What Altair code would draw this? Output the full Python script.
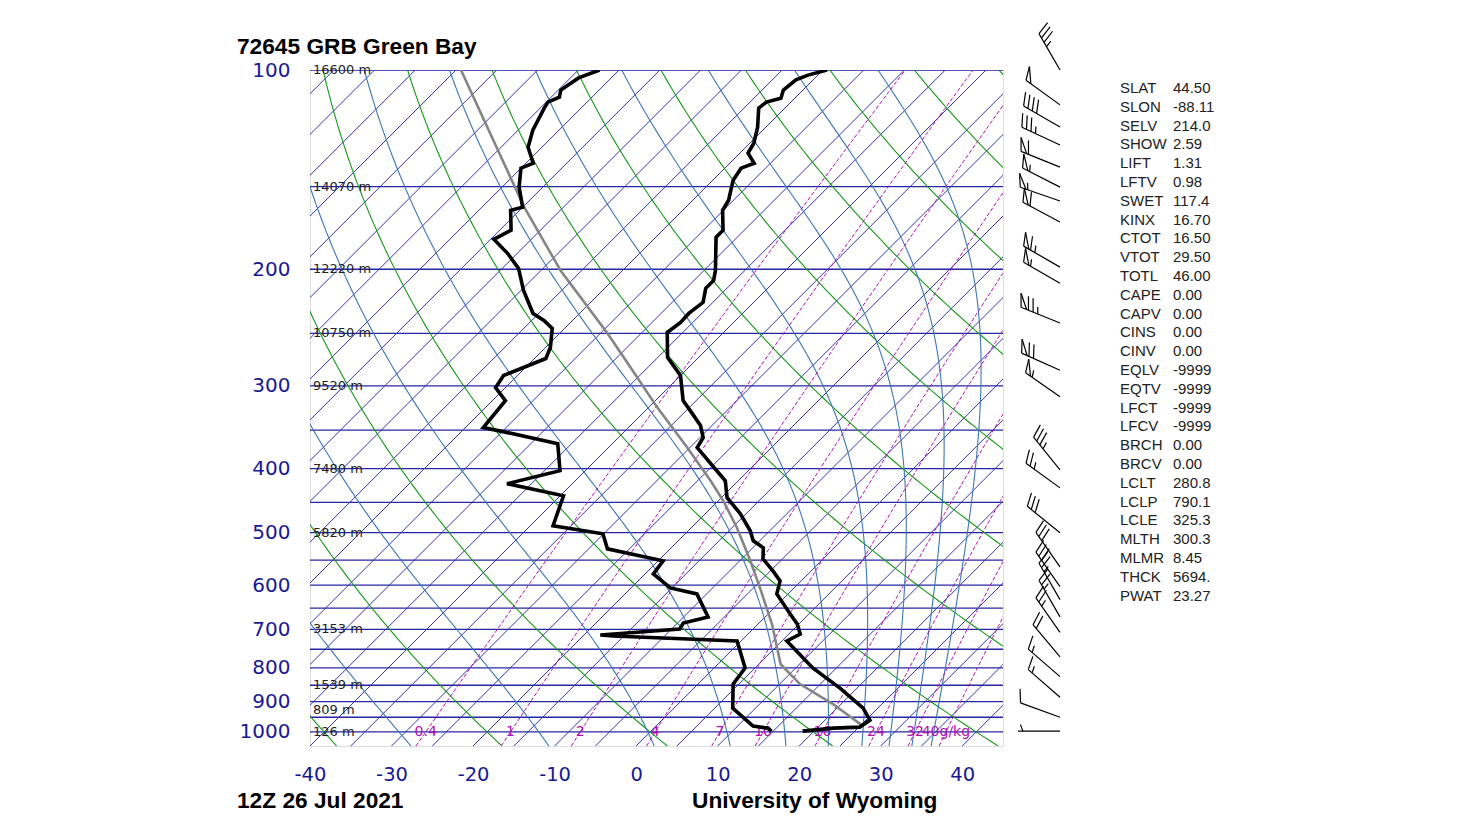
import numpy as np
import pandas as pd
import altair as alt

# ---------------- sounding values ----------------
temp_p = [100, 101.8, 103.5, 107.2, 110.3, 111.8, 114.2, 122.0, 129.0, 133.5, 138.3, 140.7,
          146.7, 157.3, 162.9, 174.6, 178.9, 200.8, 207.9, 213.7, 224.4, 233.2, 240.6, 249.2,
          271.8, 289.4, 315.8, 327.0, 344.5, 359.2, 372.0, 417.3, 442.7, 468.1, 496.7, 514.3,
          527.0, 547.6, 571.0, 591.2, 618.6, 663.3, 686.9, 711.3, 728.6, 800.5, 858.4, 920.3,
          959.5, 983.2, 986.6, 997.1]
temp_t = [-59.5, -61.2, -62.1, -62.4, -61.7, -63.0, -63.2, -61.0, -59.5, -59.0, -57.0, -58.0,
          -57.5, -55.6, -55.1, -52.6, -52.6, -48.6, -47.6, -47.6, -46.2, -46.6, -46.5, -46.9,
          -43.8, -40.0, -36.6, -34.5, -31.4, -29.6, -29.1, -21.6, -19.3, -15.7, -12.4, -10.8,
          -8.7, -7.4, -4.7, -2.6, -1.4, 2.7, 4.8, 6.4, 5.6, 12.1, 17.9, 23.2,
          25.5, 25.1, 22.0, 18.6]

dewp_p = [100, 102.8, 107.2, 109.9, 111.8, 114.2, 123.3, 130.8, 138.3, 140.7, 150.3, 161.2,
          162.9, 174.6, 180.2, 189.2, 199.4, 215.2, 233.2, 239.0, 245.7, 262.5, 272.8, 289.4,
          301.8, 315.8, 346.9, 353.0, 366.8, 403.0, 421.7, 439.7, 488.1, 501.9, 528.9, 551.4,
          577.0, 605.8, 618.6, 670.3, 684.5, 699.0, 713.8, 716.2, 728.6, 800.5, 846.5, 920.3,
          979.7, 986.6, 997.1]
dewp_t = [-87.4, -89.0, -89.7, -89.0, -89.8, -89.5, -88.2, -86.7, -84.1, -85.0, -82.9, -80.0,
          -81.1, -78.6, -79.6, -76.2, -73.0, -69.7, -65.7, -63.5, -61.5, -59.4, -58.6, -61.7,
          -61.2, -58.4, -57.8, -54.2, -46.7, -43.1, -48.0, -39.6, -37.2, -30.1, -27.7, -19.4,
          -19.0, -15.2, -11.2, -7.0, -9.3, -9.0, -18.0, -16.3, -0.5, 3.8, 4.3, 7.2,
          11.9, 13.9, 14.8]

parcel_p = [100, 161.2, 200.8, 250.0, 281.5, 323.6, 372.0, 417.3, 447.4, 491.5, 551.4, 605.8,
            686.9, 790.1, 846.5, 907.5, 979.7]
parcel_t = [-104.4, -79.8, -67.6, -54.1, -47.1, -38.9, -30.3, -23.4, -19.4, -14.4, -8.7, -4.2,
            1.7, 7.7, 12.5, 19.0, 25.4]

wind_p = [100, 112.9, 121.9, 129.8, 140.2, 150.3, 157.7, 169.7, 198.5, 209.9, 241.1, 284.1,
          311.6, 401.7, 427.8, 500.1, 563, 603, 631, 670, 707, 770, 825, 886, 950, 997]
wind_dir = [330, 306, 300, 295, 292, 297, 289, 298, 300, 300, 292, 294,
            305, 321, 306, 309, 325, 325, 330, 330, 325, 320, 311, 311, 290, 270]
wind_kt = [35, 50, 40, 35, 60, 55, 55, 60, 65, 55, 75, 70,
           55, 35, 25, 30, 30, 30, 25, 25, 25, 20, 15, 15, 10, 3]

height_p = [100, 150, 200, 250, 300, 400, 500, 700, 850, 925, 1000]
height_lbl = ["16600 m", "14070 m", "12220 m", "10750 m", "9520 m", "7480 m", "5820 m",
              "3153 m", "1539 m", "809 m", "126 m"]

index_names = ["SLAT", "SLON", "SELV", "SHOW", "LIFT", "LFTV", "SWET", "KINX", "CTOT", "VTOT",
               "TOTL", "CAPE", "CAPV", "CINS", "CINV", "EQLV", "EQTV", "LFCT", "LFCV", "BRCH",
               "BRCV", "LCLT", "LCLP", "LCLE", "MLTH", "MLMR", "THCK", "PWAT"]
index_values = ["44.50", "-88.11", "214.0", "2.59", "1.31", "0.98", "117.4", "16.70", "16.50",
                "29.50", "46.00", "0.00", "0.00", "0.00", "0.00", "-9999", "-9999", "-9999",
                "-9999", "0.00", "0.00", "280.8", "790.1", "325.3", "300.3", "8.45", "5694.",
                "23.27"]

isobar_levels = list(range(100, 1001, 50))
isotherm_levels = list(range(-125, 46, 5))
dry_theta_c = list(range(-40, 181, 20))
moist_thetae_c = list(range(-30, 151, 20))
mix_ratio = [0.4, 1, 2, 4, 7, 10, 16, 24, 32, 40]
mix_labels = ["0.4", "1", "2", "4", "7", "10", "16", "24", "32", "40g/kg"]
x_ticks = [-40, -30, -20, -10, 0, 10, 20, 30, 40]
y_ticks = [100, 200, 300, 400, 500, 600, 700, 800, 900, 1000]

# ---------------- diagram geometry ----------------
P_TOP, P_BOT = 100.0, 1050.0
X_MIN, X_MAX = -40.0, 45.0
WIDTH, HEIGHT = 693, 676
PX_PER_DEG = WIDTH / (X_MAX - X_MIN)
PX_PER_LN = HEIGHT / np.log(P_BOT / P_TOP)
SKEW = PX_PER_LN / PX_PER_DEG

BLUE = "#181894"
ISOBAR = "#2626a4"
ISOTH = "#3434aa"
GREEN = "#189818"
MOIST = "#3d76b4"
MAGENTA = "#b010b0"


def skew_x(t, p):
    return np.asarray(t, float) + SKEW * np.log(P_BOT / np.asarray(p, float))


def p_of_py(py):
    return P_TOP * np.exp(py / PX_PER_LN)


def py_of_p(p):
    return PX_PER_LN * np.log(p / P_TOP)


def x_of_px(px):
    return X_MIN + px / PX_PER_DEG


# ---- thermodynamics for the background lines ----
def es(tc):
    return 6.112 * np.exp(17.67 * tc / (tc + 243.5))


def sat_mix(tc, p):
    e = es(tc)
    return 0.622 * e / (p - e)


def lapse(tk, p):
    r = sat_mix(tk - 273.15, p)
    return (287.04 * tk + 2.501e6 * r) / (p * (1005.7 + 2.501e6 ** 2 * r * 0.622 / (287.04 * tk * tk)))


def integrate(tk, p0, p1, n):
    ps = np.linspace(p0, p1, n + 1)
    h = (p1 - p0) / n
    out = [tk]
    for k in range(n):
        p = ps[k]
        k1 = lapse(tk, p)
        k2 = lapse(tk + h * k1 / 2, p + h / 2)
        k3 = lapse(tk + h * k2 / 2, p + h / 2)
        k4 = lapse(tk + h * k3, p + h)
        tk = tk + h * (k1 + 2 * k2 + 2 * k3 + k4) / 6
        out.append(tk)
    return ps, np.array(out)


def theta_e_sat(tc, p=1000.0):
    tk = tc + 273.15
    r = sat_mix(tc, p) * 1000
    return tk * (1000 / p) ** (0.2854 * (1 - 0.28e-3 * r)) * np.exp(
        (3.376 / tk - 0.00254) * r * (1 + 0.81e-3 * r))


def theta_w(te):
    lo, hi = -80.0, 45.0
    for _ in range(60):
        mid = (lo + hi) / 2
        if theta_e_sat(mid) < te:
            lo = mid
        else:
            hi = mid
    return (lo + hi) / 2


def dewpoint_from_w(w, p):
    e = w * p / (622.0 + w)
    l = np.log(e / 6.112)
    return 243.5 * l / (17.67 - l)


# ---------------- tables ----------------
p_grid = np.exp(np.linspace(np.log(P_BOT), np.log(P_TOP), 120))

isobar_df = pd.DataFrame({"p": isobar_levels, "X": X_MIN, "X2": X_MAX})
isotherm_df = pd.DataFrame({
    "X": isotherm_levels,
    "p": P_BOT,
    "X2": skew_x(isotherm_levels, P_TOP),
    "p2": P_TOP,
})

rows = []
for th in dry_theta_c:
    t = (th + 273.15) * (p_grid / 1000.0) ** 0.2857 - 273.15
    xs = skew_x(t, p_grid)
    for i, (pp, xx) in enumerate(zip(p_grid, xs)):
        rows.append({"id": f"d{th}", "i": i, "p": pp, "X": xx})
dry_df = pd.DataFrame(rows)

rows = []
for te in moist_thetae_c:
    tw = theta_w(te + 273.15)
    pd_, td_ = integrate(tw + 273.15, 1000.0, P_BOT, 10)
    pu_, tu_ = integrate(tw + 273.15, 1000.0, P_TOP, 180)
    ps = np.concatenate([pd_[::-1], pu_[1:]])
    ts = np.concatenate([td_[::-1], tu_[1:]]) - 273.15
    xs = skew_x(ts, ps)
    for i, (pp, xx) in enumerate(zip(ps, xs)):
        rows.append({"id": f"m{te}", "i": i, "p": pp, "X": xx})
moist_df = pd.DataFrame(rows)

rows = []
for w in mix_ratio:
    td = dewpoint_from_w(w, p_grid)
    xs = skew_x(td, p_grid)
    for i, (pp, xx) in enumerate(zip(p_grid, xs)):
        rows.append({"id": f"w{w}", "i": i, "p": pp, "X": xx})
mix_df = pd.DataFrame(rows)

mixlab_df = pd.DataFrame({
    "X": [float(skew_x(dewpoint_from_w(w, 1000.0), 1000.0)) for w in mix_ratio],
    "p": 1000.0,
    "label": mix_labels,
})

height_df = pd.DataFrame({"p": height_p, "label": height_lbl})


def line_df(ps, ts):
    return pd.DataFrame({"i": range(len(ps)), "p": ps, "X": skew_x(ts, ps)})


temp_df = line_df(temp_p, temp_t)
dewp_df = line_df(dewp_p, dewp_t)
parcel_df = line_df(parcel_p, parcel_t)

# ---- wind barbs (drawn to the right of the diagram) ----
BARB_PX = 750.0
STAFF = 42.0
FEATHER = 14.0
STEP = 5.0
ang = np.radians(68)
segs = []
for p, d, spd in zip(wind_p, wind_dir, wind_kt):
    x0, y0 = BARB_PX, py_of_p(p)
    rad = np.radians(d)
    sx, sy = np.sin(rad), np.cos(rad)
    fx = sx * np.cos(ang) + sy * np.sin(ang)
    fy = -sx * np.sin(ang) + sy * np.cos(ang)
    ux, uy = sx, -sy          # screen direction toward the tip
    vx, vy = fx, -fy          # screen direction of the feathers
    tx, ty = x0 + STAFF * ux, y0 + STAFF * uy
    segs.append((x0, y0, tx, ty))
    s = int(5 * round(spd / 5.0))
    n50, rem = divmod(s, 50)
    n10, rem = divmod(rem, 10)
    n5 = 1 if rem >= 5 else 0
    pos = 0.0
    if n50 == 0 and n10 == 0 and n5 == 1:
        pos = STEP
    for _ in range(n50):
        ax, ay = tx - ux * pos, ty - uy * pos
        bx, by = tx - ux * (pos + 6), ty - uy * (pos + 6)
        cx, cy = ax + vx * FEATHER, ay + vy * FEATHER
        segs.append((ax, ay, cx, cy))
        segs.append((cx, cy, bx, by))
        pos += 8.0
    for _ in range(n10):
        ax, ay = tx - ux * pos, ty - uy * pos
        segs.append((ax, ay, ax + vx * FEATHER, ay + vy * FEATHER))
        pos += STEP
    for _ in range(n5):
        ax, ay = tx - ux * pos, ty - uy * pos
        segs.append((ax, ay, ax + vx * FEATHER / 2, ay + vy * FEATHER / 2))

barb_df = pd.DataFrame({
    "X": [x_of_px(s[0]) for s in segs],
    "p": [p_of_py(s[1]) for s in segs],
    "X2": [x_of_px(s[2]) for s in segs],
    "p2": [p_of_py(s[3]) for s in segs],
})

# ---------------- encodings ----------------
x_axis = alt.Axis(values=x_ticks, title=None, grid=False, ticks=False, tickSize=0, domain=False,
                  labelFont="DejaVu Sans", labelFontSize=19.5, labelColor=BLUE, labelPadding=19,
                  labelFlush=False, labelOverlap=False, labelExpr="'' + datum.value")
y_axis = alt.Axis(values=y_ticks, title=None, grid=False, ticks=False, tickSize=0, domain=False,
                  labelFont="DejaVu Sans", labelFontSize=20, labelColor=BLUE, labelPadding=20,
                  labelFlush=False, labelOverlap=False, labelExpr="'' + datum.value")
x_scale = alt.Scale(domain=[X_MIN, X_MAX], nice=False, zero=False)
y_scale = alt.Scale(type="log", domain=[P_TOP, P_BOT], reverse=True, nice=False)


def X():
    return alt.X("X:Q", scale=x_scale, axis=x_axis)


def Y():
    return alt.Y("p:Q", scale=y_scale, axis=y_axis)


isobars = alt.Chart(isobar_df).mark_rule(color=ISOBAR, strokeWidth=1.3, clip=True).encode(
    x=X(), x2="X2:Q", y=Y())
isotherms = alt.Chart(isotherm_df).mark_rule(color=ISOTH, strokeWidth=1.0, clip=True).encode(
    x=X(), x2="X2:Q", y=Y(), y2="p2:Q")
dry = alt.Chart(dry_df).mark_line(color=GREEN, strokeWidth=1.1, clip=True).encode(
    x=X(), y=Y(), detail="id:N", order="i:Q")
moist = alt.Chart(moist_df).mark_line(color=MOIST, strokeWidth=1.1, clip=True).encode(
    x=X(), y=Y(), detail="id:N", order="i:Q")
mix = alt.Chart(mix_df).mark_line(color=MAGENTA, strokeWidth=1.0, strokeDash=[4, 2], clip=True).encode(
    x=X(), y=Y(), detail="id:N", order="i:Q")
mixlab = alt.Chart(mixlab_df).mark_text(color=MAGENTA, font="DejaVu Sans", fontSize=14,
                                        align="center", baseline="middle").encode(
    x=X(), y=Y(), text="label:N")
heights = alt.Chart(height_df).mark_text(color="#222222", font="DejaVu Sans", fontSize=13,
                                         align="left", baseline="middle").encode(
    x=alt.value(3), y=Y(), text="label:N")
parcel = alt.Chart(parcel_df).mark_line(color="#858585", strokeWidth=2.6, clip=True).encode(
    x=X(), y=Y(), order="i:Q")
temp = alt.Chart(temp_df).mark_line(color="black", strokeWidth=3.6, clip=True).encode(
    x=X(), y=Y(), order="i:Q")
dewp = alt.Chart(dewp_df).mark_line(color="black", strokeWidth=3.6, clip=True).encode(
    x=X(), y=Y(), order="i:Q")
barbs = alt.Chart(barb_df).mark_rule(color="black", strokeWidth=1.2).encode(
    x=X(), x2="X2:Q", y=Y(), y2="p2:Q")

one = pd.DataFrame({"a": [0]})
title_t = alt.Chart(one).mark_text(text="72645 GRB Green Bay", font="Liberation Sans", fontSize=22.7,
                                   fontWeight="bold", align="left", baseline="middle", color="black").encode(
    x=alt.value(-73), y=alt.value(-23))
date_t = alt.Chart(one).mark_text(text="12Z 26 Jul 2021", font="Liberation Sans", fontSize=22.7,
                                  fontWeight="bold", align="left", baseline="middle", color="black").encode(
    x=alt.value(-73), y=alt.value(731))
uw_t = alt.Chart(one).mark_text(text="University of Wyoming", font="Liberation Sans", fontSize=22.7,
                                fontWeight="bold", align="left", baseline="middle", color="black").encode(
    x=alt.value(382), y=alt.value(731))
names_t = alt.Chart(one).mark_text(text=index_names, font="Liberation Sans", fontSize=15,
                                   lineHeight=18.8, align="left", baseline="top", color="#222222").encode(
    x=alt.value(810), y=alt.value(11))
vals_t = alt.Chart(one).mark_text(text=index_values, font="Liberation Sans", fontSize=15,
                                  lineHeight=18.8, align="left", baseline="top", color="#222222").encode(
    x=alt.value(863), y=alt.value(11))

chart = alt.layer(
    isobars, isotherms, dry, moist, mix, mixlab, heights, parcel, temp, dewp, barbs,
    title_t, date_t, uw_t, names_t, vals_t,
).properties(
    width=WIDTH, height=HEIGHT,
    padding={"left": 310, "top": 70, "right": 470, "bottom": 80},
    autosize=alt.AutoSizeParams(type="none"),
).configure_view(stroke=ISOBAR, strokeWidth=1.3).configure(background="white")

chart.save("out.html", embed_options={"renderer": "svg", "actions": False})
